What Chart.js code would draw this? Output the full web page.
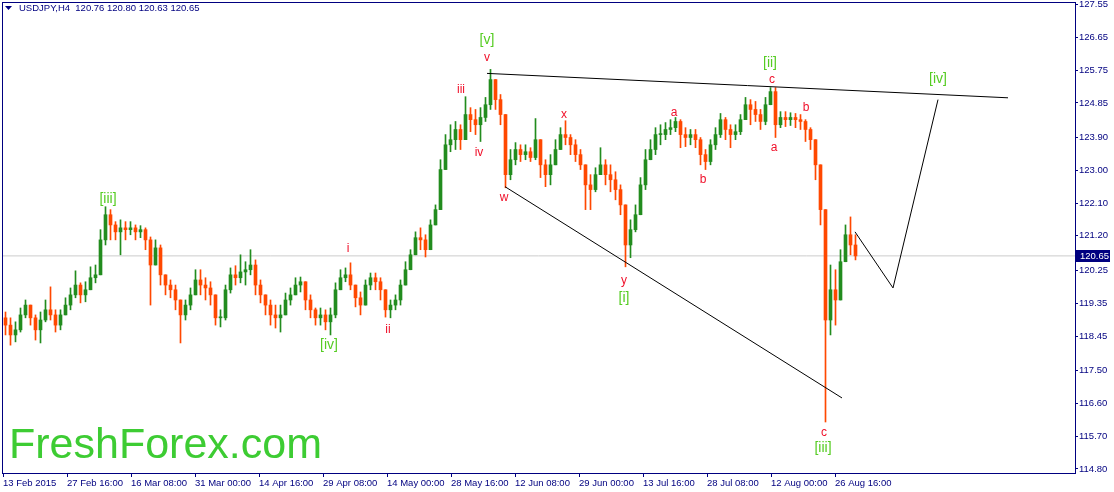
<!DOCTYPE html>
<html>
<head>
<meta charset="utf-8">
<title>USDJPY H4</title>
<script src="https://cdn.jsdelivr.net/npm/chart.js@4.4.1/dist/chart.umd.min.js"></script>
<style>
  html, body { margin: 0; padding: 0; background: #fff; }
  #chart { display: block; }
</style>
</head>
<body>
<canvas id="chart" width="1114" height="492"></canvas>
<script>
// Each candle here groups 5 H4 bars
const barsPerCandle = 5;
const firstOpen = 118.95;

const closes = [
  118.75, 118.48, 118.62, 119.03, 119.30, 118.95, 118.62, 118.89, 119.17, 119.03,
  118.75, 119.03, 119.30, 119.58, 119.85, 119.58, 119.72, 120.05, 120.13, 121.09,
  121.78, 121.50, 121.31, 121.42, 121.37, 121.42, 121.31, 121.37, 121.09, 120.40,
  120.87, 120.13, 119.85, 119.72, 119.44, 119.03, 119.30, 119.58, 119.99, 119.85,
  119.77, 119.58, 118.95, 118.95, 119.72, 120.13, 120.05, 120.21, 120.27, 120.40,
  119.85, 119.58, 119.30, 119.03, 118.95, 119.03, 119.44, 119.58, 119.85, 119.94,
  119.44, 119.17, 118.95, 119.03, 118.84, 119.03, 119.72, 120.05, 120.13, 119.85,
  119.50, 119.30, 119.85, 120.05, 119.94, 119.72, 119.17, 119.30, 119.44, 119.85,
  120.27, 120.68, 121.15, 121.09, 120.82, 121.50, 121.92, 123.02, 123.70, 123.84,
  124.12, 123.84, 124.53, 124.39, 124.25, 124.45, 124.80, 125.49, 124.94, 124.53,
  122.88, 123.29, 123.57, 123.43, 123.51, 123.35, 123.84, 123.15, 122.88, 123.15,
  123.57, 123.98, 123.90, 123.70, 123.43, 123.15, 122.60, 122.47, 122.88, 123.15,
  122.88, 122.74, 122.47, 122.05, 120.95, 121.37, 121.78, 122.60, 123.29, 123.57,
  123.98, 123.98, 124.12, 124.17, 124.34, 123.98, 123.90, 123.98, 123.84, 123.43,
  123.24, 123.70, 123.98, 124.39, 124.12, 123.98, 124.06, 124.39, 124.80, 124.67,
  124.53, 124.34, 124.80, 125.16, 124.25, 124.45, 124.39, 124.45, 124.39, 124.34,
  124.12, 123.84, 123.15, 121.92, 118.89, 119.72, 119.44, 120.49, 121.23, 120.95, 120.65
];

const highs = [
  119.11, 118.95, 118.84, 119.22, 119.44, 119.30, 119.03, 119.11, 119.44, 119.80,
  119.17, 119.17, 119.50, 119.77, 120.24, 119.91, 119.94, 120.35, 120.40, 121.37,
  122.00, 121.92, 121.59, 121.64, 121.59, 121.59, 121.50, 121.48, 121.42, 121.17,
  121.09, 120.95, 120.13, 119.99, 119.85, 119.30, 119.44, 119.77, 120.27, 120.27,
  120.05, 119.94, 119.58, 119.17, 119.85, 120.32, 120.38, 120.68, 120.49, 120.82,
  120.54, 119.99, 119.58, 119.44, 119.30, 119.30, 119.63, 119.77, 120.05, 120.07,
  119.85, 119.58, 119.22, 119.22, 119.17, 119.22, 119.91, 120.27, 120.32, 120.46,
  119.85, 119.66, 119.99, 120.18, 120.18, 120.05, 119.72, 119.44, 119.58, 119.99,
  120.49, 120.82, 121.31, 121.42, 121.23, 121.64, 122.05, 123.29, 123.98, 124.25,
  124.34, 124.25, 125.02, 124.72, 124.67, 124.72, 125.00, 125.77, 125.49, 125.08,
  124.53, 123.57, 123.76, 123.70, 123.70, 123.62, 124.42, 123.84, 123.29, 123.43,
  123.84, 124.17, 124.36, 123.98, 123.84, 123.57, 123.15, 122.88, 123.07, 123.62,
  123.29, 123.15, 122.96, 122.60, 122.05, 121.64, 122.05, 122.80, 123.57, 123.84,
  124.17, 124.25, 124.31, 124.39, 124.45, 124.39, 124.17, 124.12, 124.12, 123.90,
  123.57, 123.84, 124.17, 124.56, 124.45, 124.25, 124.25, 124.53, 125.00, 124.94,
  124.89, 124.67, 125.00, 125.27, 125.27, 124.61, 124.61, 124.58, 124.56, 124.53,
  124.39, 124.17, 123.70, 123.15, 121.92, 120.40, 120.27, 120.82, 121.50, 121.72, 121.23
];

const lows = [
  118.48, 118.20, 118.29, 118.56, 118.95, 118.75, 118.34, 118.26, 118.84, 118.89,
  118.56, 118.62, 119.11, 119.17, 119.50, 119.36, 119.39, 119.85, 119.91, 120.49,
  120.95, 121.09, 121.09, 120.68, 121.09, 121.23, 121.09, 121.15, 120.82, 119.30,
  120.49, 119.85, 119.58, 119.50, 119.17, 118.26, 118.89, 119.17, 119.66, 119.58,
  119.44, 119.30, 118.75, 118.70, 118.89, 119.63, 119.85, 119.91, 119.85, 120.13,
  119.58, 119.36, 119.03, 118.75, 118.67, 118.56, 119.03, 119.30, 119.58, 119.66,
  119.17, 118.95, 118.75, 118.75, 118.62, 118.48, 118.95, 119.72, 119.94, 119.72,
  119.25, 119.03, 119.30, 119.72, 119.72, 119.44, 118.97, 118.95, 119.17, 119.30,
  119.85, 120.40, 120.68, 120.82, 120.62, 120.95, 121.50, 122.05, 123.02, 123.51,
  123.57, 123.57, 123.98, 124.06, 123.98, 123.79, 124.34, 124.67, 124.67, 124.25,
  122.52, 122.74, 123.15, 123.24, 123.29, 123.24, 123.29, 122.80, 122.55, 122.60,
  123.15, 123.57, 123.70, 123.43, 123.24, 123.02, 121.92, 121.92, 122.41, 122.88,
  122.60, 122.41, 122.19, 121.78, 120.35, 120.60, 121.31, 121.78, 122.47, 123.29,
  123.43, 123.70, 123.84, 123.98, 124.06, 123.62, 123.65, 123.70, 123.62, 123.15,
  123.02, 123.15, 123.57, 123.90, 123.84, 123.62, 123.84, 123.98, 124.45, 124.25,
  124.34, 124.12, 124.25, 124.89, 123.90, 124.17, 124.20, 124.23, 124.17, 124.12,
  123.79, 123.57, 122.74, 121.50, 116.09, 118.48, 118.75, 119.72, 120.54, 120.68, 120.54
];

// axis ticks (x in H4 bars from 13 Feb 2015)
const xTickBars = [0, 64, 128, 192, 256, 320, 384, 448, 512, 576, 640, 704, 768, 832];
const xTickLabels = ['13 Feb 2015', '27 Feb 16:00', '16 Mar 08:00', '31 Mar 00:00', '14 Apr 16:00',
  '29 Apr 08:00', '14 May 00:00', '28 May 16:00', '12 Jun 08:00', '29 Jun 00:00',
  '13 Jul 16:00', '28 Jul 08:00', '12 Aug 00:00', '26 Aug 16:00'];
const yTickValues = [114.80, 115.70, 116.60, 117.50, 118.45, 119.35, 120.25, 121.20,
  122.10, 123.00, 123.90, 124.85, 125.75, 126.65, 127.55];

const lastPrice = 120.65;
const titleText = 'USDJPY,H4  120.76 120.80 120.63 120.65';

// hand drawn lines (bar, price)
const upperLine = [{ x: 484, y: 125.66 }, { x: 1005, y: 124.99 }];
const lowerLine = [{ x: 502, y: 122.55 }, { x: 839, y: 116.75 }];
const forecastLine = [{ x: 852, y: 121.31 }, { x: 890, y: 119.77 }, { x: 935, y: 124.94 }];

// wave labels
const greenLabels = [
  { text: '[iii]', x: 105, y: 122.22 },
  { text: '[iv]', x: 326, y: 118.20 },
  { text: '[v]', x: 484, y: 126.56 },
  { text: '[i]', x: 621, y: 119.50 },
  { text: '[ii]', x: 767, y: 125.93 },
  { text: '[iii]', x: 820, y: 115.37 },
  { text: '[iv]', x: 935, y: 125.49 }
];
const redLabels = [
  { text: 'i', x: 345, y: 120.84 },
  { text: 'ii', x: 385, y: 118.62 },
  { text: 'iii', x: 458, y: 125.21 },
  { text: 'iv', x: 476, y: 123.48 },
  { text: 'v', x: 484, y: 126.10 },
  { text: 'w', x: 501, y: 122.25 },
  { text: 'x', x: 561, y: 124.53 },
  { text: 'y', x: 621, y: 119.96 },
  { text: 'a', x: 671, y: 124.58 },
  { text: 'b', x: 700, y: 122.74 },
  { text: 'c', x: 769, y: 125.49 },
  { text: 'a', x: 771, y: 123.62 },
  { text: 'b', x: 803, y: 124.72 },
  { text: 'c', x: 821, y: 115.81 }
];

const navy = '#000080';
const bullColor = '#228c1e';
const bearColor = '#ff4800';
const font = 'Liberation Sans, Arial, sans-serif';

// build candles
const opens = closes.map((c, i) => i === 0 ? firstOpen : closes[i - 1]);
const candleX = closes.map((c, i) => i * barsPerCandle + 2.5);
const candleColors = closes.map((c, i) => c >= opens[i] ? bullColor : bearColor);
const wickData = closes.map((c, i) => ({
  x: candleX[i],
  y: [Math.min(lows[i], opens[i], c), Math.max(highs[i], opens[i], c)]
}));
const bodyData = closes.map((c, i) => ({ x: candleX[i], y: [opens[i], c] }));

// frame, title, watermark, labels and the price box
const overlay = {
  id: 'overlay',
  afterDraw(chart) {
    const ctx = chart.ctx;
    const a = chart.chartArea;
    const xs = chart.scales.x;
    const ys = chart.scales.y;
    ctx.save();

    ctx.strokeStyle = navy;
    ctx.lineWidth = 1;
    ctx.strokeRect(a.left + 0.5, a.top + 0.5, a.right - a.left, a.bottom - a.top);

    // title
    ctx.fillStyle = navy;
    ctx.beginPath();
    ctx.moveTo(5, 6); ctx.lineTo(12, 6); ctx.lineTo(8.5, 10); ctx.closePath();
    ctx.fill();
    ctx.font = '9.5px ' + font;
    ctx.textBaseline = 'middle';
    ctx.textAlign = 'left';
    ctx.fillText(titleText, 19, 8.5);

    // watermark
    ctx.fillStyle = '#3dcc33';
    ctx.font = '43px ' + font;
    ctx.textBaseline = 'alphabetic';
    ctx.fillText('FreshForex.com', 9, 458);

    // wave labels
    ctx.textAlign = 'center';
    ctx.textBaseline = 'middle';
    ctx.font = '14px ' + font;
    ctx.fillStyle = '#55cc22';
    greenLabels.forEach(l => ctx.fillText(l.text, xs.getPixelForValue(l.x), ys.getPixelForValue(l.y)));
    ctx.font = '12px ' + font;
    ctx.fillStyle = '#f0102a';
    redLabels.forEach(l => ctx.fillText(l.text, xs.getPixelForValue(l.x), ys.getPixelForValue(l.y)));

    // current price box
    const py = Math.round(ys.getPixelForValue(lastPrice));
    ctx.fillStyle = navy;
    ctx.fillRect(a.right + 1, py - 6, chart.width - a.right - 5, 12);
    ctx.fillStyle = '#ffffff';
    ctx.font = '9.5px ' + font;
    ctx.textAlign = 'left';
    ctx.fillText(lastPrice.toFixed(2), a.right + 5, py + 0.5);
    ctx.restore();
  }
};

// keep the plot area edge to edge: no extra room for half labels
const noLabelPadding = s => {
  s.paddingTop = 0; s.paddingBottom = 0; s.paddingLeft = 0; s.paddingRight = 0;
};

new Chart(document.getElementById('chart'), {
  type: 'bar',
  data: {
    datasets: [
      {
        type: 'line',
        data: [{ x: -1, y: lastPrice }, { x: 1072, y: lastPrice }],
        borderColor: '#cccccc', borderWidth: 1, pointRadius: 0, order: 10
      },
      { data: wickData, backgroundColor: candleColors, barThickness: 1, grouped: false, order: 6 },
      { data: bodyData, backgroundColor: candleColors, barThickness: 3, minBarLength: 1, grouped: false, order: 5 },
      { type: 'line', data: upperLine, borderColor: '#000', borderWidth: 1, pointRadius: 0, order: 1 },
      { type: 'line', data: lowerLine, borderColor: '#000', borderWidth: 1, pointRadius: 0, order: 1 },
      { type: 'line', data: forecastLine, borderColor: '#000', borderWidth: 1, pointRadius: 0, order: 1 }
    ]
  },
  options: {
    responsive: false,
    animation: false,
    devicePixelRatio: 1,
    layout: { padding: { top: 2, left: 2, right: 0, bottom: 0 } },
    plugins: { legend: { display: false }, tooltip: { enabled: false } },
    scales: {
      x: {
        type: 'linear',
        min: -1,
        max: 1072,
        offset: false,
        afterBuildTicks: s => { s.ticks = xTickBars.map(v => ({ value: v })); },
        afterFit: s => { s.height = 19; noLabelPadding(s); },
        grid: { offset: false, drawOnChartArea: false, tickLength: 4, color: navy },
        border: { color: navy },
        ticks: {
          autoSkip: false, maxRotation: 0, minRotation: 0, align: 'start', padding: 1,
          color: navy, font: { family: font, size: 9.5 },
          callback: (v, i) => xTickLabels[i]
        }
      },
      y: {
        position: 'right',
        min: 114.69,
        max: 127.62,
        beginAtZero: false,
        afterBuildTicks: s => { s.ticks = yTickValues.map(v => ({ value: v })); },
        afterFit: s => { s.width = 39; noLabelPadding(s); },
        grid: { drawOnChartArea: false, tickLength: 3, color: navy },
        border: { color: navy },
        ticks: {
          padding: 1, color: navy, font: { family: font, size: 9.5 },
          callback: v => v.toFixed(2)
        }
      }
    }
  },
  plugins: [overlay]
});
</script>
</body>
</html>
